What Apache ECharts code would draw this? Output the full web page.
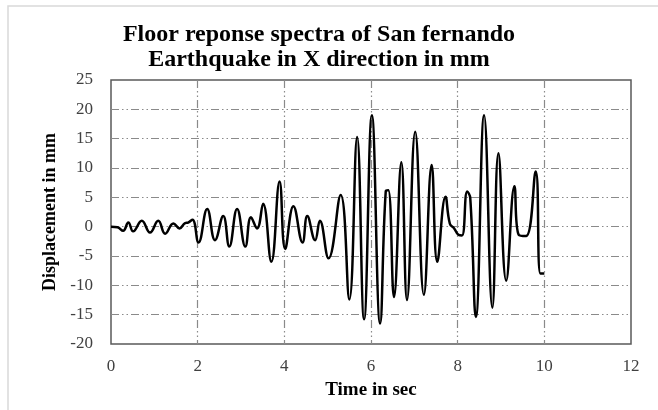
<!DOCTYPE html>
<html>
<head>
<meta charset="utf-8">
<script src="https://cdn.jsdelivr.net/npm/echarts@6/dist/echarts.min.js"></script>
<style>
  html, body { margin: 0; padding: 0; background: #fff; }
  #chart { width: 658px; height: 410px; }
</style>
</head>
<body>
<div id="chart"></div>
<script>
// Floor displacement time history (turning points), seconds and mm
const timeSec = [
  0, 0.15, 0.28, 0.40, 0.51, 0.71, 0.90, 1.09, 1.25, 1.44, 1.58, 1.71, 1.78, 1.88,
  2.02, 2.22, 2.40, 2.59, 2.73, 2.91, 3.10, 3.23, 3.37, 3.51, 3.70, 3.89,
  4.02, 4.21, 4.42, 4.53, 4.71, 4.82, 5.02, 5.30, 5.50, 5.68, 5.84,
  6.02, 6.21, 6.34, 6.40, 6.53, 6.70, 6.83, 7.02, 7.22, 7.40, 7.53, 7.72,
  7.82, 7.92, 8.02, 8.10, 8.22, 8.29, 8.42, 8.61, 8.80, 8.94, 9.12, 9.31,
  9.41, 9.58, 9.80, 9.91, 10.0
];
const displacementMm = [
  0, -0.1, -0.7, 0.7, -0.8, 1.0, -1.0, 1.0, -1.2, 0.55, -0.3, 0.6, 0.7, 1.2,
  -2.7, 3.0, -2.3, 1.8, -3.4, 3.0, -3.4, 1.6, -0.3, 3.9, -6.0, 7.7,
  -3.8, 3.5, -2.7, 1.8, -2.3, 1.0, -5.4, 5.4, -12.4, 15.3, -15.8,
  19.0, -16.5, 6.0, 6.2, -12.0, 11.0, -12.5, 16.2, -11.6, 10.5, -6.0, 5.1,
  0.5, -0.3, -1.4, -1.5, 6.0, 4.9, -15.4, 19.0, -13.8, 12.5, -9.2, 6.9,
  -1.4, -1.6, 9.4, -8.0, -8.0
];
const xTicks = { min: 0, max: 12, step: 2 };
const yTicks = { min: -20, max: 25, step: 5 };

const seriesData = timeSec.map((t, i) => [t, displacementMm[i]]);

const serif = "'Liberation Serif', 'Times New Roman', serif";
const gridDash = {
  color: '#8a8a8a',
  width: 1.2,
  type: [8, 3, 1.5, 3, 1.5, 3]
};

const chart = echarts.init(document.getElementById('chart'), null, { renderer: 'canvas' });
chart.setOption({
  backgroundColor: '#ffffff',
  animation: false,
  graphic: [{
    type: 'rect',
    shape: { x: 8, y: 6, width: 700, height: 500 },
    style: { fill: 'none', stroke: '#d9d9d9', lineWidth: 1.5 },
    z: -10
  }],
  title: {
    text: 'Floor reponse spectra of San fernando\nEarthquake in X direction in mm',
    left: 314,
    top: 17,
    textAlign: 'center',
    textStyle: {
      fontFamily: serif,
      fontWeight: 'bold',
      fontSize: 24,
      lineHeight: 25,
      color: '#000'
    }
  },
  grid: {
    left: 111, top: 80, right: 27, bottom: 66,
    show: true,
    borderColor: '#5a5a5a',
    borderWidth: 1.5,
    backgroundColor: 'transparent'
  },
  xAxis: {
    type: 'value',
    min: xTicks.min, max: xTicks.max, interval: xTicks.step,
    name: 'Time in sec',
    nameLocation: 'middle',
    nameGap: 37,
    nameTextStyle: { fontFamily: serif, fontWeight: 'bold', fontSize: 19, color: '#000' },
    axisLine: { show: false },
    axisTick: { show: false },
    axisLabel: { fontFamily: serif, fontSize: 17, color: '#404040', margin: 14 },
    splitLine: { show: true, showMinLine: false, showMaxLine: false, lineStyle: gridDash }
  },
  yAxis: {
    type: 'value',
    min: yTicks.min, max: yTicks.max, interval: yTicks.step,
    name: 'Displacement in mm',
    nameLocation: 'middle',
    nameGap: 49,
    nameTextStyle: { fontFamily: serif, fontWeight: 'bold', fontSize: 18, color: '#000' },
    axisLine: { show: false },
    axisTick: { show: false },
    axisLabel: { fontFamily: serif, fontSize: 17, color: '#404040', margin: 18 },
    splitLine: { show: true, showMinLine: false, showMaxLine: false, lineStyle: gridDash }
  },
  series: [{
    type: 'line',
    data: seriesData,
    smooth: 0.45,
    showSymbol: false,
    lineStyle: { color: '#000', width: 2.5 },
    z: 5
  }]
});
</script>
</body>
</html>
